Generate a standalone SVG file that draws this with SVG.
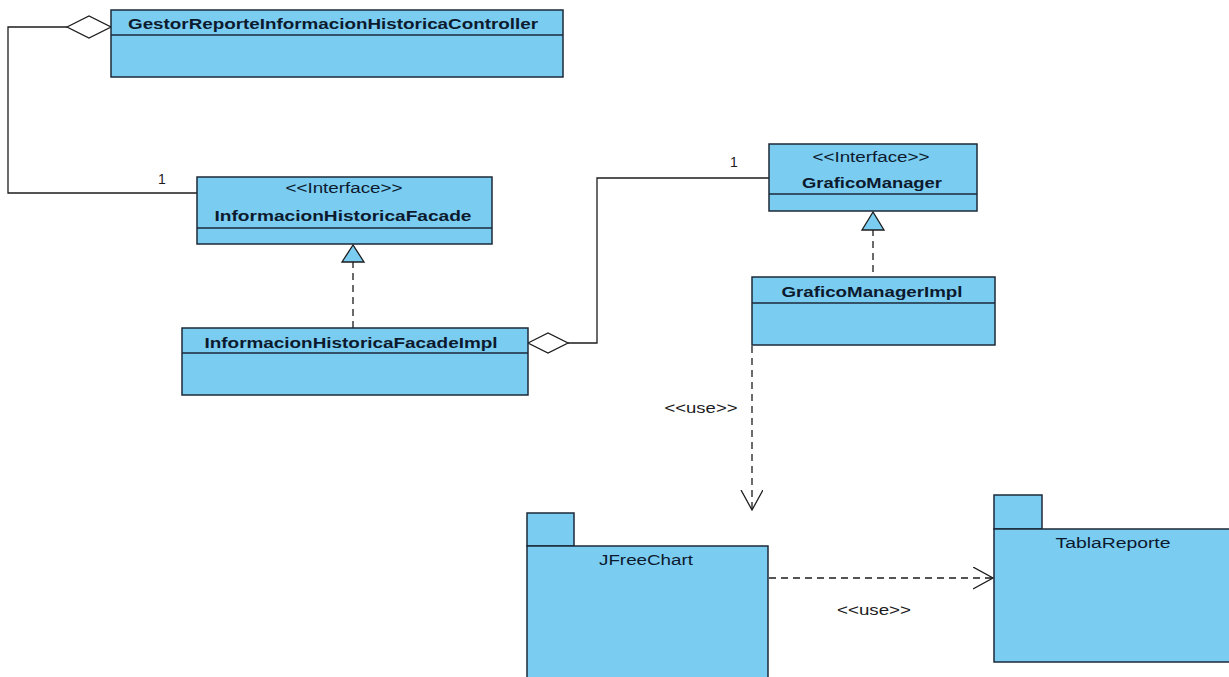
<svg xmlns="http://www.w3.org/2000/svg" width="1229" height="677" viewBox="0 0 1229 677">
<defs>
<style>
.box{fill:#7accf1;stroke:#1c2a38;stroke-width:1.5}
.ln{fill:none;stroke:#1c1c1c;stroke-width:1.3}
.dash{fill:none;stroke:#1c1c1c;stroke-width:1.3;stroke-dasharray:7,5}
.dia{fill:#ffffff;stroke:#1c1c1c;stroke-width:1.3}
.tri{fill:#7accf1;stroke:#1c1c1c;stroke-width:1.3}
.name{font-family:"Liberation Sans",Arial,sans-serif;font-weight:bold;font-size:15.5px;fill:#0c1a2e;text-anchor:middle}
.st{font-family:"Liberation Sans",Arial,sans-serif;font-size:14px;fill:#0c1a2e;text-anchor:middle}
.lbl{font-family:"Liberation Sans",Arial,sans-serif;font-size:14px;fill:#1c1c1c;text-anchor:middle}
</style>
<marker id="open" markerWidth="26" markerHeight="26" refX="20" refY="11" orient="auto" markerUnits="userSpaceOnUse">
<path d="M0,0 L20,11 L0,22" fill="none" stroke="#1c1c1c" stroke-width="1.3"/>
</marker>
</defs>
<rect width="1229" height="677" fill="#ffffff"/>

<g id="connectors">
<polyline class="ln" points="67,27 8,27 8,193 197,193"/>
<polygon class="dia" points="67,27 89,16 111,27 89,38"/>
<text class="lbl" x="162" y="184">1</text>
<line class="dash" x1="353" y1="261" x2="353" y2="328"/>
<polygon class="tri" points="353,245 342,262 364,262"/>
<polyline class="ln" points="568,343 597,343 597,178 769,178"/>
<polygon class="dia" points="528,343 548,333 568,343 548,353"/>
<text class="lbl" x="734" y="167">1</text>
<line class="dash" x1="873" y1="229" x2="873" y2="277"/>
<polygon class="tri" points="873,212 862,230 884,230"/>
<line class="dash" x1="752" y1="346" x2="752" y2="510" marker-end="url(#open)"/>
<text class="lbl" x="701" y="413" textLength="73" lengthAdjust="spacingAndGlyphs">&lt;&lt;use&gt;&gt;</text>
<line class="dash" x1="769" y1="578" x2="993" y2="578" marker-end="url(#open)"/>
<text class="lbl" x="874" y="615" textLength="74" lengthAdjust="spacingAndGlyphs">&lt;&lt;use&gt;&gt;</text>
</g>

<g id="GestorReporteInformacionHistoricaController">
<rect class="box" x="111" y="10" width="452" height="67"/>
<line class="box" x1="111" y1="35" x2="563" y2="35"/>
<text class="name" x="333" y="29" textLength="410" lengthAdjust="spacingAndGlyphs">GestorReporteInformacionHistoricaController</text>
</g>

<g id="InformacionHistoricaFacade">
<rect class="box" x="197" y="177" width="295" height="67"/>
<line class="box" x1="197" y1="228" x2="492" y2="228"/>
<text class="st" x="344" y="193" textLength="117" lengthAdjust="spacingAndGlyphs">&lt;&lt;Interface&gt;&gt;</text>
<text class="name" x="343" y="221" textLength="257" lengthAdjust="spacingAndGlyphs">InformacionHistoricaFacade</text>
</g>

<g id="InformacionHistoricaFacadeImpl">
<rect class="box" x="182" y="328" width="346" height="67"/>
<line class="box" x1="182" y1="353" x2="528" y2="353"/>
<text class="name" x="351" y="348" textLength="293" lengthAdjust="spacingAndGlyphs">InformacionHistoricaFacadeImpl</text>
</g>

<g id="GraficoManager">
<rect class="box" x="769" y="144" width="208" height="67"/>
<line class="box" x1="769" y1="194" x2="977" y2="194"/>
<text class="st" x="871" y="162" textLength="117" lengthAdjust="spacingAndGlyphs">&lt;&lt;Interface&gt;&gt;</text>
<text class="name" x="872" y="188" textLength="140" lengthAdjust="spacingAndGlyphs">GraficoManager</text>
</g>

<g id="GraficoManagerImpl">
<rect class="box" x="752" y="277" width="243" height="68"/>
<line class="box" x1="752" y1="303" x2="995" y2="303"/>
<text class="name" x="872" y="297" textLength="181" lengthAdjust="spacingAndGlyphs">GraficoManagerImpl</text>
</g>

<g id="JFreeChart">
<rect class="box" x="527" y="513" width="47" height="33"/>
<rect class="box" x="527" y="546" width="241" height="140"/>
<text class="st" x="646" y="565" textLength="94" lengthAdjust="spacingAndGlyphs">JFreeChart</text>
</g>

<g id="TablaReporte">
<rect class="box" x="994" y="495" width="48" height="34"/>
<rect class="box" x="994" y="529" width="245" height="133"/>
<text class="st" x="1113" y="548" textLength="115" lengthAdjust="spacingAndGlyphs">TablaReporte</text>
</g>
</svg>
